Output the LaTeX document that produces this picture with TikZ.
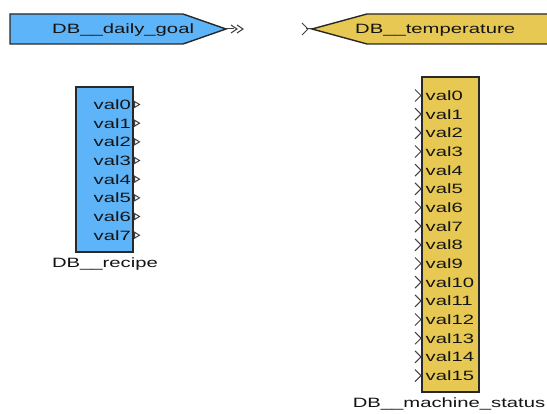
\documentclass[tikz,border=0pt]{standalone}
\usepackage{fontspec}
\newfontfamily\diagfont[FakeStretch=1.5]{Liberation Sans}
\definecolor{dbblue}{RGB}{94,180,248}
\definecolor{dbyellow}{RGB}{230,200,82}
\definecolor{edgegray}{RGB}{40,40,40}
\tikzset{
  lbl/.style={font=\diagfont\fontsize{13.5}{16}\selectfont, inner sep=0pt, text=black!92},
  body/.style={draw=edgegray, line width=1.4pt, line join=miter},
  pinline/.style={draw=black!75, line width=1pt},
}
\begin{document}
\begin{tikzpicture}[x=1pt,y=-1pt]
\useasboundingbox[fill=white] (0,0) rectangle (547,414);

% DB__daily_goal (outgoing connector)
\draw[body, fill=dbblue] (10,14) -- (183,14) -- (226,29) -- (183,44) -- (10,44) -- cycle;
\draw[pinline] (226,29) -- (234,29);
\draw[pinline] (231,25) -- (237,29) -- (231,33);
\draw[pinline] (237,25) -- (243,29) -- (237,33);
\node[lbl, anchor=base west] (goal) at (52,33.8) {DB\_\_daily\_goal};

% DB__temperature (incoming connector)
\fill[dbyellow] (312,29) -- (367,14) -- (548,14) -- (548,44) -- (367,44) -- cycle;
\draw[body] (548,14) -- (367,14) -- (312,29) -- (367,44) -- (548,44);
\draw[pinline] (306,29) -- (312,29);
\draw[pinline] (302,23) -- (308,29) -- (302,35);
\node[lbl, anchor=base west] (temp) at (355,33.8) {DB\_\_temperature};

% DB__recipe
\draw[body, fill=dbblue] (76,87) rectangle (133,252);
\foreach \i in {0,...,7}{
  \pgfmathsetmacro{\yy}{109.5+18.67*\i}
  \node[lbl, anchor=base east] (r\i) at (131,\yy) {val\i};
  \draw[pinline, fill=white] (134.5,\yy-8) -- (139.5,\yy-5) -- (134.5,\yy-2) -- cycle;
}
\node[lbl, anchor=base] (recipe) at (105,268) {DB\_\_recipe};

% DB__machine_status
\draw[body, fill=dbyellow] (422,77) rectangle (479,392);
\foreach \i in {0,...,15}{
  \pgfmathsetmacro{\yy}{100.5+18.67*\i}
  \node[lbl, anchor=base west] (m\i) at (425.5,\yy) {val\i};
  \draw[pinline] (415,\yy-11) -- (421,\yy-5) -- (415,\yy+1);
}
\node[lbl, anchor=base] (status) at (449,408) {DB\_\_machine\_status};
\end{tikzpicture}
\end{document}
